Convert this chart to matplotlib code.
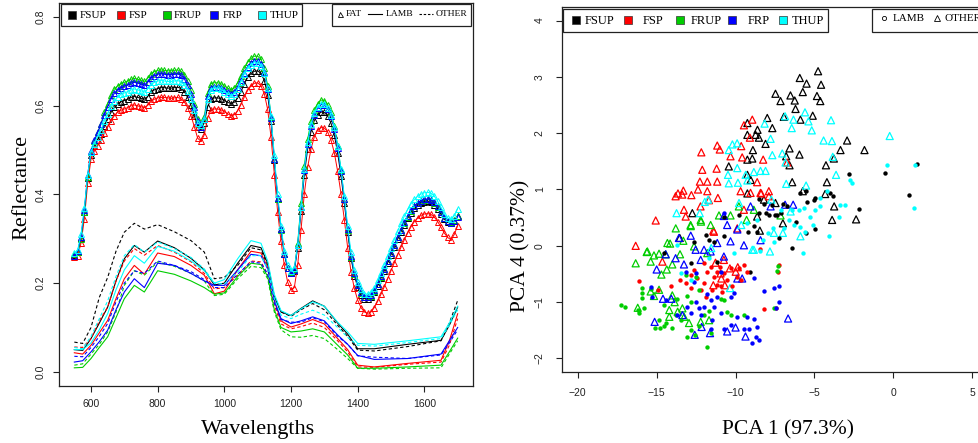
import numpy as np
import matplotlib
matplotlib.use("Agg")
import matplotlib.pyplot as plt
from matplotlib.lines import Line2D
from matplotlib.patches import Rectangle

W, H = 979, 443
SERIF = "Liberation Serif"
SANS = "Liberation Sans"

GROUPS = ["FSUP", "FSP", "FRUP", "FRP", "THUP"]
COLORS = ["black", "#FF0000", "#00CD00", "#0000FF", "#00FFFF"]

# ── spectra: FAT means (triangles), 10 nm steps 550..1700 ────────────────────
WL_FAT = np.arange(550, 1701, 10)

FAT_FSUP = [
    .263, .27, .302, .36, .438, .49, .51, .523, .537, .555,
    .57, .585, .597, .604, .609, .612, .615, .619, .621, .619,
    .617, .615, .621, .631, .636, .639, .641, .641, .64, .64,
    .641, .642, .639, .632, .619, .601, .578, .553, .547, .562,
    .598, .615, .618, .618, .616, .612, .608, .605, .608, .618,
    .632, .65, .664, .673, .678, .679, .673, .657, .624, .565,
    .478, .39, .322, .266, .234, .222, .228, .28, .362, .445,
    .503, .542, .567, .58, .586, .585, .577, .561, .534, .493,
    .442, .381, .315, .257, .217, .191, .174, .165, .164, .168,
    .179, .194, .211, .228, .246, .264, .281, .299, .316, .332,
    .346, .359, .369, .376, .381, .384, .385, .383, .377, .368,
    .356, .344, .337, .335, .34, .352]
FAT_FSP = [
    .258, .262, .29, .345, .425, .48, .498, .51, .522, .538,
    .552, .566, .578, .586, .59, .593, .596, .6, .602, .6,
    .598, .596, .601, .61, .615, .618, .619, .619, .618, .617,
    .618, .619, .616, .609, .596, .578, .553, .527, .52, .535,
    .573, .59, .593, .593, .591, .587, .582, .578, .58, .589,
    .603, .62, .635, .645, .651, .652, .645, .627, .592, .53,
    .445, .36, .295, .24, .202, .185, .19, .24, .32, .402,
    .462, .503, .53, .545, .551, .55, .541, .523, .494, .452,
    .402, .343, .28, .226, .188, .162, .145, .135, .132, .135,
    .145, .159, .175, .192, .21, .228, .246, .264, .281, .298,
    .313, .327, .339, .347, .353, .356, .357, .355, .349, .339,
    .326, .313, .303, .298, .31, .33]
FAT_FRUP = [
    .265, .27, .30, .36, .44, .495, .52, .54, .56, .585,
    .605, .625, .638, .645, .65, .653, .656, .66, .662, .66,
    .658, .655, .662, .672, .677, .68, .681, .68, .679, .679,
    .68, .681, .678, .67, .655, .635, .605, .57, .556, .575,
    .63, .65, .652, .652, .65, .645, .64, .636, .64, .652,
    .668, .685, .698, .707, .712, .712, .705, .685, .645, .575,
    .48, .39, .32, .265, .235, .225, .232, .29, .38, .465,
    .525, .565, .59, .605, .613, .612, .603, .585, .555, .51,
    .455, .39, .32, .26, .22, .195, .178, .168, .168, .172,
    .183, .198, .215, .232, .25, .268, .285, .303, .32, .336,
    .35, .363, .373, .38, .385, .388, .389, .387, .381, .372,
    .36, .347, .34, .337, .342, .352]
FAT_FRP = [
    .262, .272, .305, .365, .445, .498, .522, .54, .558, .58,
    .598, .615, .628, .636, .641, .644, .647, .651, .653, .651,
    .649, .646, .653, .663, .668, .671, .672, .671, .67, .67,
    .671, .672, .669, .661, .646, .627, .598, .566, .553, .57,
    .622, .641, .643, .643, .641, .636, .631, .627, .631, .643,
    .658, .675, .688, .697, .701, .701, .695, .676, .638, .572,
    .48, .392, .322, .266, .235, .224, .23, .285, .372, .456,
    .515, .555, .58, .595, .603, .602, .594, .577, .548, .505,
    .452, .39, .322, .262, .222, .196, .179, .169, .169, .173,
    .184, .199, .216, .233, .251, .269, .286, .304, .321, .337,
    .351, .364, .374, .381, .386, .389, .39, .388, .382, .373,
    .361, .348, .34, .336, .34, .35]
FAT_THUP = [
    .268, .275, .31, .37, .445, .495, .515, .53, .545, .565,
    .582, .6, .612, .62, .626, .629, .632, .636, .638, .636,
    .634, .631, .638, .648, .653, .656, .657, .656, .655, .655,
    .656, .657, .654, .647, .634, .616, .59, .562, .556, .57,
    .615, .636, .64, .64, .637, .632, .627, .623, .627, .638,
    .654, .672, .685, .693, .697, .697, .691, .674, .64, .578,
    .488, .4, .33, .272, .24, .228, .234, .286, .372, .458,
    .518, .558, .584, .598, .605, .604, .596, .58, .552, .51,
    .458, .396, .33, .27, .23, .203, .186, .176, .175, .179,
    .19, .206, .224, .242, .261, .28, .298, .317, .335, .351,
    .366, .379, .389, .396, .401, .404, .405, .403, .396, .385,
    .371, .356, .347, .344, .352, .368]

# ── spectra: LAMB (solid) and OTHER (dashed) means ───────────────────────────
WL_LINE = [550, 575, 600, 625, 650, 675, 700, 730, 760, 800, 850, 900, 940,
           970, 1000, 1040, 1080, 1110, 1130, 1150, 1170, 1200, 1230, 1265,
           1300, 1340, 1370, 1400, 1450, 1550, 1650, 1675, 1700]

LAMB_FSUP = [.05, .048, .075, .11, .146, .205, .255, .285, .27, .295, .28,
             .256, .23, .196, .2, .245, .285, .28, .245, .17, .135, .127,
             .143, .16, .148, .11, .085, .052, .052, .062, .071, .105, .146]
OTHER_FSUP = [.067, .064, .10, .168, .213, .272, .315, .335, .322, .332, .316,
              .296, .27, .21, .213, .24, .28, .275, .24, .17, .135, .125,
              .14, .154, .14, .105, .08, .049, .047, .057, .07, .11, .161]
LAMB_FSP = [.043, .04, .06, .088, .116, .165, .21, .24, .22, .268, .26,
            .24, .218, .176, .182, .23, .272, .268, .235, .16, .115, .101,
            .108, .118, .108, .075, .05, .015, .011, .019, .026, .07, .131]
OTHER_FSP = [.056, .055, .075, .115, .146, .205, .25, .278, .263, .285, .27,
             .248, .222, .187, .19, .218, .25, .248, .22, .15, .108, .097,
             .102, .11, .10, .07, .045, .011, .01, .017, .022, .06, .12]
LAMB_FRUP = [.009, .01, .03, .055, .079, .122, .165, .195, .18, .228, .22,
             .205, .19, .175, .178, .215, .245, .242, .215, .14, .10, .09,
             .092, .097, .09, .06, .038, .008, .008, .011, .015, .045, .076]
OTHER_FRUP = [.015, .018, .04, .062, .09, .135, .195, .228, .218, .248, .238,
              .222, .205, .172, .175, .21, .238, .235, .21, .135, .095, .079,
              .078, .082, .075, .05, .03, .008, .006, .008, .009, .04, .07]
LAMB_FRP = [.022, .025, .045, .068, .094, .14, .18, .21, .19, .245, .24,
            .222, .205, .195, .195, .23, .265, .262, .232, .162, .12, .109,
            .115, .124, .115, .083, .062, .037, .028, .03, .04, .07, .10]
OTHER_FRP = [.035, .034, .055, .08, .109, .158, .20, .228, .222, .25, .24,
             .226, .208, .19, .19, .22, .248, .245, .22, .155, .118, .112,
             .112, .122, .113, .08, .062, .036, .033, .03, .038, .065, .095]
LAMB_THUP = [.05, .05, .065, .095, .131, .185, .23, .262, .245, .283, .272,
             .25, .228, .20, .208, .255, .296, .29, .25, .175, .138, .127,
             .142, .158, .148, .112, .09, .064, .062, .07, .079, .11, .148]
OTHER_THUP = [.055, .052, .08, .12, .16, .215, .262, .287, .27, .293, .278,
              .258, .232, .20, .198, .225, .262, .262, .232, .165, .128, .12,
              .13, .139, .128, .10, .078, .06, .058, .066, .075, .105, .14]

FAT = [FAT_FSUP, FAT_FSP, FAT_FRUP, FAT_FRP, FAT_THUP]
LAMB = [LAMB_FSUP, LAMB_FSP, LAMB_FRUP, LAMB_FRP, LAMB_THUP]
OTHER = [OTHER_FSUP, OTHER_FSP, OTHER_FRUP, OTHER_FRP, OTHER_THUP]

# ── PCA scores (PC1, PC4) ────────────────────────────────────────────────────
PCA_OTHER_FSUP = [
    (-4.77, 3.10), (-5.93, 2.98), (-5.5, 2.88), (-4.58, 2.86), (-7.47, 2.70),
    (-7.15, 2.57), (-6.52, 2.67), (-6.25, 2.58), (-5.74, 2.73), (-4.84, 2.66),
    (-4.63, 2.57), (-6.2, 2.43), (-6.94, 2.29), (-5.89, 2.24), (-5.11, 2.31),
    (-7.99, 2.27), (-9.25, 2.18), (-7.67, 2.09), (-8.61, 2.06), (-9.25, 1.97),
    (-8.73, 1.97), (-8.52, 1.92), (-8.1, 1.81), (-2.93, 1.87), (-1.83, 1.70),
    (-3.35, 1.70), (-8.9, 1.70), (-6.58, 1.73), (-5.95, 1.62), (-3.77, 1.55),
    (-9.25, 1.53), (-8.94, 1.55), (-6.79, 1.59), (-4.27, 1.43), (-6.58, 1.43),
    (-10.43, 1.41), (-12.74, 0.58), (-9.25, 1.26), (-9.04, 1.17), (-6.41, 1.13),
    (-4.21, 1.13), (-5.74, 0.97), (-9.25, 0.93), (-4.32, 0.92), (-8.2, 0.82),
    (-3.75, 0.70), (-7.47, 0.76), (-3.88, 0.46), (-2.36, 0.47), (-7.0, 0.40),
    (-8.63, 0.52), (-8.46, 0.27), (-13.54, 0.14)]
PCA_LAMB_FSUP = [
    (-2.83, 1.28), (-0.55, 1.29), (1.5, 1.45), (1.01, 0.90), (-2.15, 0.65),
    (-5.51, 0.97), (-5.89, 0.94), (-4.94, 0.85), (-5.04, 0.82), (-3.99, 0.94),
    (-3.84, 0.88), (-5.46, 0.78), (-8.52, 0.83), (-8.21, 0.74), (-7.72, 0.72),
    (-8.04, 0.58), (-7.47, 0.55), (-7.15, 0.58), (-9.78, 0.55), (-6.41, -0.04),
    (-5.53, 0.23), (-4.94, 0.29), (-6.2, 0.43), (-6.98, 0.75), (-6.77, 0.70),
    (-9.09, -0.47), (-8.52, 0.58), (-7.88, 0.55), (-7.4, 0.55), (-7.25, 0.14),
    (-8.63, 0.24), (-8.84, 0.35), (-9.21, 0.25), (-10.74, 0.18), (-11.37, 0.06),
    (-11.69, 0.11), (-12.84, -0.31), (-11.9, 0.20), (-10.74, 0.52),
    (-14.53, -0.13), (-12.63, 0.06), (-11.16, -0.28)]
PCA_OTHER_FSP = [
    (-8.94, 2.24), (-9.47, 2.14), (-9.09, 1.92), (-11.16, 1.78), (-11.0, 1.71),
    (-12.17, 1.66), (-9.64, 1.77), (-10.32, 1.59), (-9.58, 1.57), (-8.25, 1.53),
    (-11.2, 1.37), (-12.11, 1.35), (-11.79, 1.14), (-12.26, 1.14), (-11.16, 1.14),
    (-11.79, 0.97), (-12.38, 1.0), (-13.31, 0.98), (-13.65, 0.93), (-13.8, 0.88),
    (-12.8, 0.90), (-11.12, 0.85), (-9.68, 0.97), (-8.63, 1.13), (-8.37, 0.93),
    (-7.89, 0.97), (-6.73, 1.48), (-7.89, 0.88), (-13.38, 0.91), (-12.22, 0.70),
    (-11.69, 0.81), (-13.16, 0.52), (-15.06, 0.45), (-16.33, 0.0),
    (-14.64, -0.28), (-11.37, 0.25), (-11.27, -0.30), (-9.89, 0.31),
    (-9.05, 0.94), (-8.42, 0.94), (-10.36, -0.40), (-9.86, -0.38),
    (-10.95, -0.49), (-9.47, 0.64), (-13.27, 0.64), (-11.41, 0.27),
    (-10.74, -0.25), (-10.68, -0.70), (-11.41, -0.70), (-10.9, -0.58),
    (-9.99, -0.46)]
PCA_LAMB_FSP = [
    (-16.12, -0.62), (-14.9, -0.78), (-14.11, -0.71), (-13.52, -0.60),
    (-12.84, -0.75), (-12.42, -0.58), (-12.0, -0.31), (-11.8, -0.46),
    (-11.58, -0.37), (-11.37, -0.55), (-11.16, -0.70), (-10.85, -0.82),
    (-10.53, -0.60), (-10.32, -0.40), (-9.79, -0.40), (-9.64, -0.60),
    (-9.26, -0.46), (-8.46, -0.06), (-7.32, -0.46), (-7.25, -0.34),
    (-8.2, -1.12), (-7.46, -1.11), (-12.63, -0.43), (-12.21, -0.78),
    (-10.95, -0.72), (-10.21, -0.72), (-13.16, -0.66), (-12.0, -0.66),
    (-11.47, -0.78), (-10.74, -0.49), (-9.94, -0.55), (-10.99, -0.37),
    (-12.84, -0.52), (-11.9, -0.90), (-11.16, -0.46), (-9.47, -0.34)]
PCA_OTHER_FRUP = [
    (-15.63, -0.11), (-15.17, -0.17), (-15.38, -0.28), (-14.85, -0.14),
    (-14.43, -0.15), (-14.15, 0.04), (-13.79, 0.31), (-13.52, -0.15),
    (-14.01, -0.33), (-14.36, -0.42), (-14.7, -0.51), (-13.31, 0.09),
    (-12.84, 0.35), (-12.21, 0.46), (-11.58, 0.37), (-11.05, 0.54),
    (-10.32, 0.54), (-9.79, 0.70), (-8.84, 0.64), (-7.15, 0.54),
    (-14.85, -0.78), (-15.38, -0.81), (-15.17, -0.89), (-16.2, -1.10),
    (-14.01, -0.88), (-13.86, -1.0), (-14.2, -1.14), (-13.67, -1.17),
    (-13.26, -1.26), (-12.95, -1.37), (-12.21, -1.35), (-11.68, -1.32),
    (-13.37, -1.11), (-12.63, -0.01), (-11.79, -0.13), (-14.2, -1.26),
    (-16.33, -0.31), (-15.59, -0.10), (-14.32, 0.05), (-12.85, 0.37),
    (-12.19, 0.43), (-9.3, 0.46)]
PCA_LAMB_FRUP = [
    (-17.27, -1.05), (-17.02, -1.08), (-16.2, -1.14), (-16.12, -1.19),
    (-15.8, -1.11), (-15.95, -0.75), (-15.91, -0.84), (-15.91, -0.92),
    (-15.38, -0.77), (-15.13, -1.46), (-14.85, -1.32), (-14.79, -1.45),
    (-14.53, -1.42), (-14.43, -1.37), (-14.53, -1.05), (-14.01, -1.46),
    (-13.8, -1.23), (-13.48, -1.32), (-13.05, -1.61), (-12.84, -1.49),
    (-12.59, -1.58), (-11.79, -1.80), (-12.31, -0.78), (-13.16, -0.52),
    (-12.84, -1.0), (-13.05, -0.89), (-12.0, -1.23), (-11.68, -1.16),
    (-10.95, -0.94), (-10.74, -0.96), (-10.57, -1.18), (-10.32, -1.23),
    (-7.57, -1.11), (-7.32, -0.35), (-7.36, -0.44), (-9.47, -1.23),
    (-12.31, -1.43), (-11.58, -1.55), (-13.69, -0.94), (-12.52, -0.55)]
PCA_OTHER_FRP = [
    (-15.13, -1.35), (-15.0, -0.42), (-14.43, -0.15), (-13.8, -0.22),
    (-13.59, 0.14), (-13.27, -0.33), (-12.84, 0.18), (-12.53, -0.07),
    (-12.21, -0.25), (-12.0, -0.07), (-11.58, -0.10), (-10.74, 0.53),
    (-10.53, 0.37), (-10.32, 0.08), (-9.89, 0.29), (-9.47, 0.01),
    (-9.05, 0.70), (-8.42, 0.10), (-9.89, -0.58), (-9.58, -0.58),
    (-12.59, -1.58), (-11.62, -1.55), (-10.53, -1.52), (-10.0, -1.45),
    (-9.37, -1.61), (-12.15, -1.44), (-14.07, -0.94), (-14.6, -0.94),
    (-6.67, -1.29), (-13.37, -1.23), (-10.74, -0.19), (-11.16, 0.05),
    (-6.86, 0.73), (-6.35, 0.73), (-7.78, 0.70)]
PCA_LAMB_FRP = [
    (-15.38, -0.73), (-15.27, -0.90), (-14.43, -0.96), (-12.53, -0.49),
    (-12.63, -0.64), (-13.05, -1.08), (-12.53, -0.99), (-12.32, -1.11),
    (-12.0, -1.08), (-11.79, -0.86), (-11.58, -0.96), (-11.37, -1.08),
    (-11.16, -0.90), (-10.95, -1.20), (-11.47, -1.32), (-12.21, -1.23),
    (-12.84, -1.20), (-13.69, -1.23), (-10.32, -0.90), (-10.1, -0.84),
    (-9.89, -1.26), (-9.47, -1.47), (-9.26, -1.26), (-9.15, -1.47),
    (-8.84, -1.30), (-8.63, -1.44), (-8.94, -1.72), (-8.7, -1.61),
    (-8.52, -1.67), (-8.21, -0.81), (-7.57, -0.75), (-7.25, -0.71),
    (-7.25, -1.0), (-7.46, -1.11), (-8.84, -0.57), (-10.74, -1.47),
    (-11.58, -1.47), (-10.32, -1.41), (-10.74, 0.58), (-13.16, -0.46),
    (-10.95, -0.46)]
PCA_OTHER_THUP = [
    (-0.23, 1.95), (-3.95, 2.23), (-5.17, 2.05), (-5.6, 2.37), (-5.38, 2.21),
    (-6.44, 2.09), (-6.33, 2.24), (-6.86, 2.30), (-8.16, 2.17), (-7.78, 1.90),
    (-4.42, 1.87), (-3.89, 1.86), (-9.9, 1.82), (-10.2, 1.80), (-10.43, 1.70),
    (-7.04, 1.64), (-6.83, 1.48), (-7.67, 1.61), (-3.84, 1.58), (-8.42, 1.33),
    (-8.1, 1.33), (-8.84, 1.31), (-9.36, 1.26), (-9.89, 1.38), (-9.85, 1.12),
    (-9.25, 1.16), (-10.48, 1.26), (-10.43, 1.11), (-9.78, 0.76), (-6.79, 1.10),
    (-5.53, 1.07), (-3.63, 1.26), (-7.73, 0.82), (-11.74, 0.82), (-11.95, 0.78),
    (-13.74, 0.58), (-12.27, 0.58), (-7.82, -0.10), (-8.84, -0.07),
    (-5.89, 0.17), (-7.0, 0.23), (-7.57, 0.23), (-6.51, 0.61), (-9.64, 0.37),
    (-11.54, -0.04), (-10.35, -0.75), (-8.94, -0.07)]
PCA_LAMB_THUP = [
    (-0.4, 1.43), (1.39, 1.44), (1.29, 0.67), (-2.77, 1.17), (-2.62, 1.12),
    (-3.04, 0.73), (-3.35, 0.73), (-4.2, 0.97), (-4.62, 0.85), (-5.68, 0.67),
    (-3.46, 0.52), (-4.1, 0.17), (-5.11, 0.37), (-5.7, -0.13), (-5.6, 0.25),
    (-5.89, 0.34), (-6.31, 0.37), (-6.62, 0.46), (-6.94, 0.31), (-6.41, 0.64),
    (-5.99, 0.64), (-4.63, 0.70), (-7.57, 0.06), (-8.25, 0.10), (-8.42, -0.10),
    (-7.62, 0.31), (-7.96, 0.22), (-8.63, 0.46), (-9.26, 0.40), (-10.1, -0.13),
    (-13.69, 0.01), (-13.48, -0.48), (-12.84, -0.61), (-11.69, -0.22),
    (-5.28, 0.52), (-7.15, 0.64), (-4.94, 0.64)]

PCA_OTHER = [PCA_OTHER_FSUP, PCA_OTHER_FSP, PCA_OTHER_FRUP, PCA_OTHER_FRP,
             PCA_OTHER_THUP]
PCA_LAMB = [PCA_LAMB_FSUP, PCA_LAMB_FSP, PCA_LAMB_FRUP, PCA_LAMB_FRP,
            PCA_LAMB_THUP]


# ── helpers (pixel coords of the 979x443 canvas -> figure fraction) ──────────

def fxy(x, y):
    return x / W, 1 - y / H


def box(fig, x0, y0, x1, y1):
    fig.add_artist(Rectangle(fxy(x0, y1), (x1 - x0) / W, (y1 - y0) / H,
                             transform=fig.transFigure, facecolor="white",
                             edgecolor="#222222", lw=0.9, zorder=10))


def mark(fig, x, y, **kw):
    fig.add_artist(Line2D([x / W], [1 - y / H], transform=fig.transFigure,
                          zorder=11, **kw))


def seg(fig, x0, x1, y, **kw):
    fig.add_artist(Line2D([x0 / W, x1 / W], [1 - y / H, 1 - y / H],
                          transform=fig.transFigure, zorder=11, **kw))


def label(fig, x, y, s, size, **kw):
    fig.text(x / W, 1 - y / H, s, fontsize=size, family=SERIF, zorder=12, **kw)


def style_axes(ax, ypad, xpad):
    for sp in ax.spines.values():
        sp.set_color("#222222")
        sp.set_linewidth(0.9)
    ax.tick_params(direction="out", length=4.3, width=0.8, colors="#222222",
                   labelsize=7.5)
    ax.tick_params(axis="y", labelrotation=90, pad=ypad)
    ax.tick_params(axis="x", pad=xpad)
    for t in ax.get_xticklabels() + ax.get_yticklabels():
        t.set_family(SANS)
    for t in ax.get_yticklabels():
        t.set_va("center")


def main():
    fig = plt.figure(figsize=(W / 100, H / 100), dpi=100)

    # ── left: spectra ──
    ax1 = fig.add_axes([59 / W, (H - 386) / H, 414 / W, 383 / H])
    for vals, col in zip(FAT, COLORS):
        ax1.plot(WL_FAT, vals, color=col, lw=0.7, marker="^", ms=4.4,
                 mfc="none", mew=0.7, zorder=3)
    for lamb, other, col in zip(LAMB, OTHER, COLORS):
        ax1.plot(WL_LINE, lamb, color=col, lw=0.8, zorder=2)
        ax1.plot(WL_LINE, other, color=col, lw=0.8, dashes=(3, 2.2), zorder=2)
    ax1.set_xlim(504, 1746)
    ax1.set_ylim(-0.032, 0.832)
    ax1.set_xticks([600, 800, 1000, 1200, 1400, 1600])
    ax1.set_yticks([0.0, 0.2, 0.4, 0.6, 0.8])
    ax1.set_yticklabels(["0.0", "0.2", "0.4", "0.6", "0.8"])
    style_axes(ax1, 5.5, 5.0)

    # ── right: PCA scores ──
    ax2 = fig.add_axes([562 / W, (H - 372) / H, 426 / W, 365 / H])
    for other, lamb, col in zip(PCA_OTHER, PCA_LAMB, COLORS):
        o = np.array(other)
        l = np.array(lamb)
        ax2.scatter(o[:, 0], o[:, 1], s=26, marker="^", facecolors="none",
                    edgecolors=col, linewidths=0.9, zorder=3)
        ax2.scatter(l[:, 0], l[:, 1], s=10, marker="o", color=col,
                    linewidths=0, zorder=4)
    ax2.set_xlim(-21, 6)
    ax2.set_ylim(-2.24, 4.24)
    ax2.set_xticks([-20, -15, -10, -5, 0, 5])
    ax2.set_yticks([-2, -1, 0, 1, 2, 3, 4])
    style_axes(ax2, 8.0, 7.5)

    # ── axis titles ──
    label(fig, 26, 187, "Reflectance", 16, rotation=90, rotation_mode="anchor",
          ha="center", va="baseline")
    label(fig, 258, 434, "Wavelengths", 16, ha="center", va="baseline")
    label(fig, 525, 246, "PCA 4 (0.37%)", 15.5, rotation=90,
          rotation_mode="anchor", ha="center", va="baseline")
    label(fig, 788, 434, "PCA 1 (97.3%)", 15.5, ha="center", va="baseline")

    # ── legends, left panel ──
    box(fig, 61, 4, 302, 26)
    for xm, xt, name, col in zip([72, 121, 167, 214, 262],
                                 [80, 129, 174, 223, 270], GROUPS, COLORS):
        mark(fig, xm, 15, marker="s", ms=5.2, color=col, mec="#333333",
             mew=0.5)
        label(fig, xt, 15.5, name, 8, ha="left", va="center")
    box(fig, 332, 4, 471, 26)
    mark(fig, 340, 14, marker="^", ms=3.6, mfc="none", mec="black", mew=0.6)
    label(fig, 346, 14.5, "FAT", 6.8, ha="left", va="center")
    seg(fig, 368, 382, 14, color="black", lw=0.8)
    label(fig, 386, 14.5, "LAMB", 6.8, ha="left", va="center")
    seg(fig, 419, 433, 14, color="black", lw=0.8, dashes=(2.2, 1.6))
    label(fig, 436, 14.5, "OTHER", 6.8, ha="left", va="center")

    # ── legends, right panel (second box runs off the canvas, as in the source) ──
    box(fig, 563, 9, 828, 32)
    for xm, xt, name, col in zip([576, 628, 680, 732, 783],
                                 [585, 643, 691, 748, 792], GROUPS, COLORS):
        mark(fig, xm, 20, marker="s", ms=5.8, color=col, mec="#333333",
             mew=0.5)
        label(fig, xt, 20.5, name, 9, ha="left", va="center")
    box(fig, 872, 9, 1005, 32)
    mark(fig, 884, 18, marker="o", ms=3.0, mfc="none", mec="black", mew=0.6)
    label(fig, 893, 18.5, "LAMB", 8, ha="left", va="center")
    mark(fig, 937, 18, marker="^", ms=3.8, mfc="none", mec="black", mew=0.6)
    label(fig, 945, 18.5, "OTHER", 8, ha="left", va="center")

    fig.savefig("out.png", dpi=100)
    plt.close(fig)


if __name__ == "__main__":
    main()
